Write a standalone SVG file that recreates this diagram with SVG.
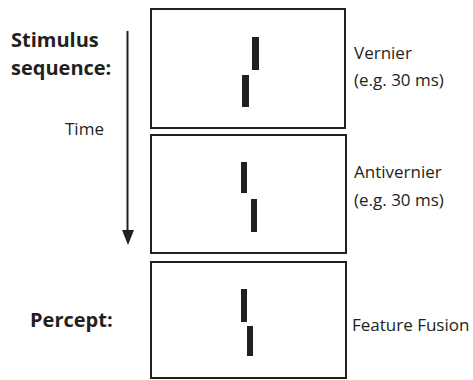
<svg xmlns="http://www.w3.org/2000/svg" width="473" height="380" viewBox="0 0 473 380">
<style>
.box{fill:#fff;stroke:#231f20;stroke-width:2}
.bar{fill:#231f20}
.lbl{font-family:"Open Sans","Liberation Sans",sans-serif;font-size:17px;fill:#231f20}
.bold{font-family:"Open Sans","Liberation Sans",sans-serif;font-size:20px;font-weight:bold;fill:#231f20}
</style>
<rect width="473" height="380" fill="#fff"/>
<g id="connectors">
<line x1="127.5" y1="31" x2="127.5" y2="232" stroke="#231f20" stroke-width="2"/>
<polygon points="122,230 134,230 128,245" fill="#231f20"/>
</g>
<g id="label-stimulus">
<text class="bold" x="11" y="47">Stimulus</text>
<text class="bold" x="11" y="75">sequence:</text>
</g>
<g id="label-time"><text class="lbl" x="65" y="135">Time</text></g>
<g id="vernier">
<rect class="box" x="151" y="9" width="194" height="119"/>
<rect class="bar" x="252" y="37" width="7" height="33"/>
<rect class="bar" x="242" y="75" width="7" height="32"/>
<text class="lbl" x="354" y="59">Vernier</text>
<text class="lbl" x="354" y="86">(e.g. 30 ms)</text>
</g>
<g id="antivernier">
<rect class="box" x="151" y="135" width="195" height="118"/>
<rect class="bar" x="241" y="162" width="6" height="31"/>
<rect class="bar" x="251" y="199" width="6" height="33"/>
<text class="lbl" x="354" y="178">Antivernier</text>
<text class="lbl" x="354" y="206">(e.g. 30 ms)</text>
</g>
<g id="percept">
<rect class="box" x="151" y="262" width="195" height="116"/>
<rect class="bar" x="241" y="289" width="6" height="33"/>
<rect class="bar" x="247" y="326" width="6" height="30"/>
<text class="bold" x="30" y="327">Percept:</text>
<text class="lbl" x="352" y="331">Feature Fusion</text>
</g>
</svg>
